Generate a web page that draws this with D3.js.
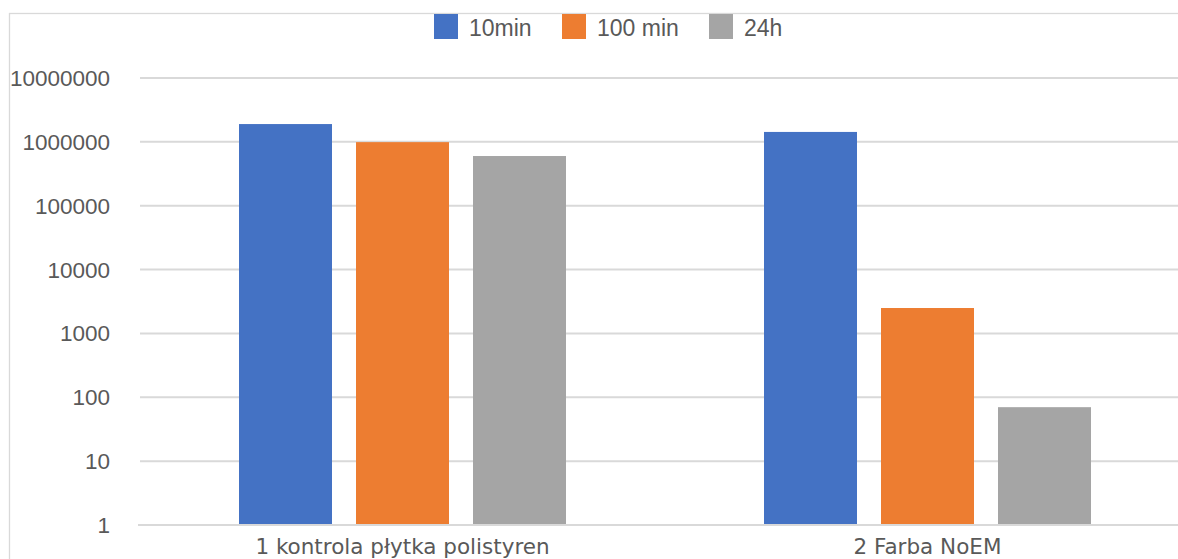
<!DOCTYPE html>
<html>
<head>
<meta charset="utf-8">
<script src="https://cdn.jsdelivr.net/npm/d3@7"></script>
<style>
  html, body { margin: 0; padding: 0; background: #fff; }
  svg { display: block; }
</style>
</head>
<body>
<svg id="chart" width="1178" height="559"></svg>
<script>
const categories = ["1 kontrola płytka polistyren", "2 Farba NoEM"];
const seriesNames = ["10min", "100 min", "24h"];
const s10min  = [1900000, 1430000];
const s100min = [990000, 2500];
const s24h    = [600000, 70];
const seriesColors = ["#4472C4", "#ED7D31", "#A5A5A5"];
const yTicks = [1, 10, 100, 1000, 10000, 100000, 1000000, 10000000];

const seriesValues = [s10min, s100min, s24h];
const svg = d3.select("#chart");
const W = 1178, H = 559;

// outer chart border
svg.append("rect").attr("x", 9.5).attr("y", 13.5).attr("width", W + 10).attr("height", H + 10)
  .attr("fill", "none").attr("stroke", "#d9d9d9").attr("stroke-width", 1.3);

const y = d3.scaleLog().domain([1, 1e7]).range([525, 78]);
const x0 = d3.scaleBand().domain(categories).range([140, 1190]).paddingInner(0).paddingOuter(0);
const inner = 99;
const x1 = d3.scaleBand().domain(seriesNames)
  .range([inner, x0.bandwidth() - inner]).paddingInner(24 / 117).paddingOuter(0);

// gridlines
svg.append("g").selectAll("line").data(yTicks).join("line")
  .attr("x1", 140).attr("x2", 1190)
  .attr("y1", d => y(d)).attr("y2", d => y(d))
  .attr("stroke", "#d9d9d9").attr("stroke-width", 2);

// y tick labels
svg.append("g").selectAll("text").data(yTicks).join("text")
  .attr("x", 110).attr("y", d => y(d) + 8)
  .attr("text-anchor", "end")
  .attr("font-family", "Liberation Sans, Arial, sans-serif")
  .attr("font-size", 22.5)
  .attr("fill", "#595959")
  .text(d => d3.format("d")(d));

// bars
const groups = svg.append("g").selectAll("g").data(categories).join("g")
  .attr("transform", c => `translate(${x0(c)},0)`);
groups.selectAll("rect")
  .data((c, ci) => seriesNames.map((s, si) => ({ s, si, v: seriesValues[si][ci] })))
  .join("rect")
  .attr("x", d => x1(d.s))
  .attr("width", x1.bandwidth())
  .attr("y", d => y(d.v))
  .attr("height", d => y(1) - y(d.v))
  .attr("fill", d => seriesColors[d.si]);

// baseline
svg.append("line").attr("x1", 138).attr("x2", 1190).attr("y1", y(1)).attr("y2", y(1))
  .attr("stroke", "#d9d9d9").attr("stroke-width", 2);

// category labels
svg.append("g").selectAll("text").data(categories).join("text")
  .attr("x", c => x0(c) + x0.bandwidth() / 2)
  .attr("y", 554)
  .attr("text-anchor", "middle")
  .attr("font-family", "DejaVu Sans, sans-serif")
  .attr("font-size", 21.5)
  .attr("fill", "#595959")
  .text(c => c);

// legend
const legendX = [434, 562, 709];
const legend = svg.append("g").selectAll("g").data(seriesNames).join("g")
  .attr("transform", (d, i) => `translate(${legendX[i]},14)`);
legend.append("rect").attr("width", 24).attr("height", 25)
  .attr("fill", (d, i) => seriesColors[i]);
legend.append("text").attr("x", 35).attr("y", 22)
  .attr("font-family", "Liberation Sans, Arial, sans-serif")
  .attr("font-size", 23)
  .attr("fill", "#595959")
  .text(d => d);
</script>
</body>
</html>
